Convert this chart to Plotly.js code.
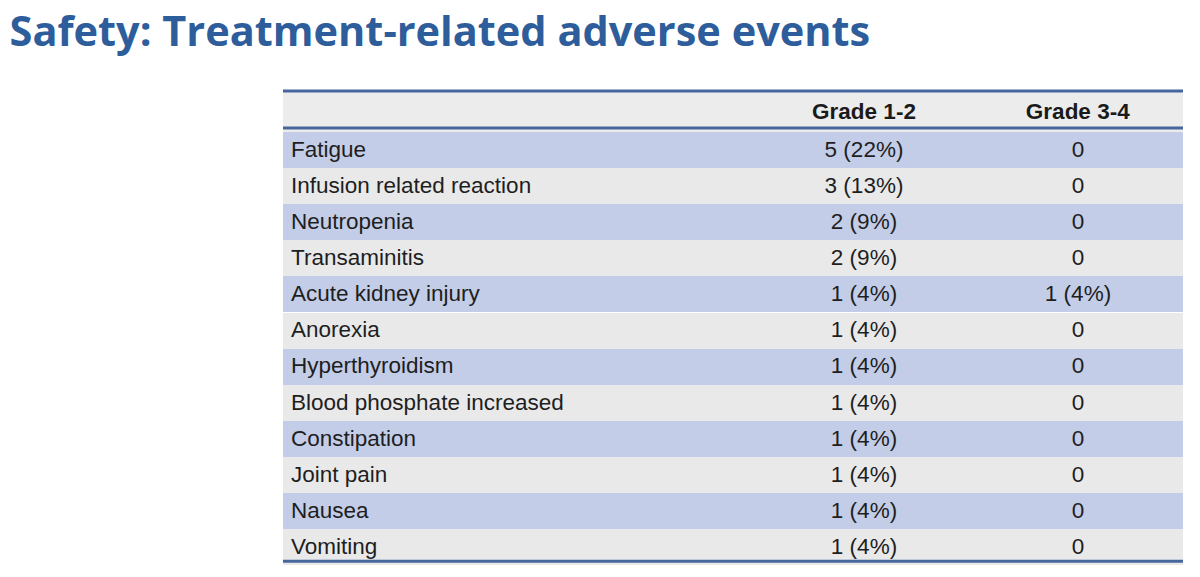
<!DOCTYPE html>
<html>
<head>
<meta charset="utf-8">
<script src="https://cdn.plot.ly/plotly-3.0.1.min.js"></script>
<style>
  html, body { margin: 0; padding: 0; background: #ffffff; }
  #chart { width: 1200px; height: 577px; }
</style>
</head>
<body>
<div id="chart"></div>
<script>
const headers = ["", "<b>Grade 1-2</b>", "<b>Grade 3-4</b>"];
const events = [
  "Fatigue", "Infusion related reaction", "Neutropenia", "Transaminitis",
  "Acute kidney injury", "Anorexia", "Hyperthyroidism", "Blood phosphate increased",
  "Constipation", "Joint pain", "Nausea", "Vomiting"
];
const grade12 = [
  "5 (22%)", "3 (13%)", "2 (9%)", "2 (9%)", "1 (4%)", "1 (4%)",
  "1 (4%)", "1 (4%)", "1 (4%)", "1 (4%)", "1 (4%)", "1 (4%)"
];
const grade34 = ["0", "0", "0", "0", "1 (4%)", "0", "0", "0", "0", "0", "0", "0"];

const W = 1200, H = 577;
const x0 = 283, x1 = 1183, yTop = 91, headerH = 37, rowH = 36.1;
const blue = "#c3cde8", grey = "#e9e9ea", lineColor = "#46679d";
const rowColors = events.map((_, i) => i % 2 === 0 ? blue : grey);
const bodyFont = "'Liberation Sans', Arial, sans-serif";

const trace = {
  type: "table",
  domain: { x: [x0 / W, x1 / W], y: [0, 1 - yTop / H] },
  columnwidth: [472, 218, 210],
  header: {
    values: headers,
    align: ["left", "center", "center"],
    height: headerH,
    fill: { color: "#ececec" },
    line: { width: 0, color: "#ececec" },
    font: { family: bodyFont, size: 22.5, color: "#1a1a1a" }
  },
  cells: {
    values: [events, grade12, grade34],
    align: ["left", "center", "center"],
    height: rowH,
    fill: { color: [rowColors, rowColors, rowColors] },
    line: { width: 0, color: [rowColors, rowColors, rowColors] },
    font: { family: bodyFont, size: 22.5, color: "#1e1e1e" }
  }
};

function hline(yPx) {
  return {
    type: "line", xref: "paper", yref: "paper",
    x0: x0 / W, x1: x1 / W, y0: 1 - yPx / H, y1: 1 - yPx / H,
    line: { color: lineColor, width: 3 }, layer: "above"
  };
}

const layout = {
  width: W, height: H,
  margin: { l: 0, r: 0, t: 0, b: 0 },
  paper_bgcolor: "#ffffff",
  title: {
    text: "<b>Safety: Treatment-related adverse events</b>",
    x: 0.008, xanchor: "left",
    y: 1 - 31 / H, yanchor: "middle",
    font: { family: "'Open Sans', sans-serif", size: 41.5, color: "#2e5d9b" }
  },
  shapes: [hline(yTop), hline(yTop + headerH), hline(yTop + headerH + rowH * events.length)]
};

Plotly.newPlot("chart", [trace], layout, { displayModeBar: false, staticPlot: true });
</script>
</body>
</html>
